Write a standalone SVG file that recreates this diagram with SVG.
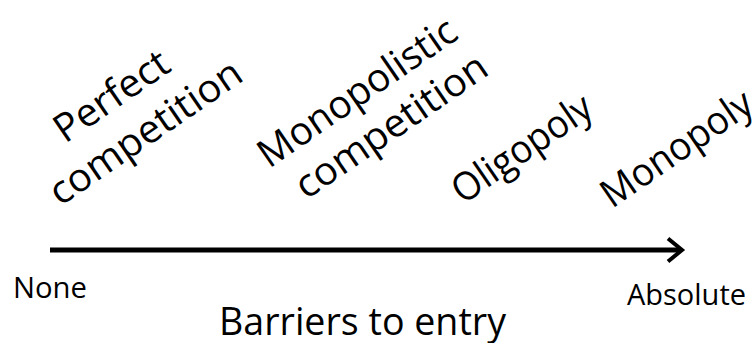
<svg xmlns="http://www.w3.org/2000/svg" width="756" height="343" viewBox="0 0 756 343">
  <style>
    .lbl { font-family: "Open Sans", "Noto Sans", "Liberation Sans", sans-serif; fill: #000; }
    .big { font-size: 39px; }
    .small { font-size: 29.5px; }
    .axis { stroke: #000; fill: none; }
  </style>
  <rect width="756" height="343" fill="#fff"/>
  <g id="connectors">
    <line class="axis" x1="50" y1="250" x2="681" y2="250" stroke-width="5"/>
    <polyline class="axis" points="668,238.5 682,250 668,261.5" stroke-width="4" stroke-linejoin="miter"/>
  </g>
  <g id="node-perfect" transform="translate(65,144) rotate(-34.5)">
    <text class="lbl big" x="0" y="0" textLength="131" lengthAdjust="spacingAndGlyphs">Perfect</text>
    <text class="lbl big" x="-39.5" y="49" textLength="225" lengthAdjust="spacingAndGlyphs">competition</text>
  </g>
  <g id="node-monopolistic" transform="translate(269,169) rotate(-34.5)">
    <text class="lbl big" x="0" y="0" textLength="232" lengthAdjust="spacingAndGlyphs">Monopolistic</text>
    <text class="lbl big" x="13" y="47" textLength="224" lengthAdjust="spacingAndGlyphs">competition</text>
  </g>
  <g id="node-oligopoly" transform="translate(463,205) rotate(-34.5)">
    <text class="lbl big" x="0" y="0" textLength="161" lengthAdjust="spacingAndGlyphs">Oligopoly</text>
  </g>
  <g id="node-monopoly" transform="translate(612,209) rotate(-34.5)">
    <text class="lbl big" x="0" y="0" textLength="175" lengthAdjust="spacingAndGlyphs">Monopoly</text>
  </g>
  <g id="node-none">
    <text class="lbl small" x="13" y="298" textLength="74" lengthAdjust="spacingAndGlyphs">None</text>
  </g>
  <g id="node-absolute">
    <text class="lbl small" x="627" y="305" textLength="119" lengthAdjust="spacingAndGlyphs">Absolute</text>
  </g>
  <g id="node-title">
    <text class="lbl big" x="219" y="335" textLength="287" lengthAdjust="spacingAndGlyphs">Barriers to entry</text>
  </g>
</svg>
